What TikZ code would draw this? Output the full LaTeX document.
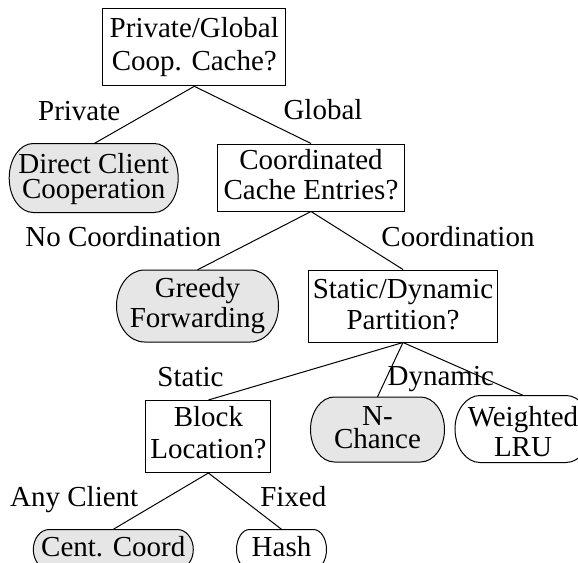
\documentclass[tikz,border=0pt]{standalone}
\usepackage{fontspec}
\setmainfont{Liberation Serif}
\definecolor{fillgray}{RGB}{230,230,230}
% oval outline: centre x, centre y, width, height, end radius, fill colour
\newcommand\ovaloutline[6]{%
  \filldraw[line width=1pt, fill=#6]
    ({#1-#3/2+#5},{#2-#4/2}) -- ({#1+#3/2-#5},{#2-#4/2})
    arc[start angle=-90, end angle=90, x radius=#5, y radius=#4/2]
    -- ({#1-#3/2+#5},{#2+#4/2})
    arc[start angle=90, end angle=270, x radius=#5, y radius=#4/2]
    -- cycle;}
\newcommand\upstrut[1]{\rule{0pt}{#1}}
\newcommand\downstrut[1]{\rule[-#1]{0pt}{0pt}}
\begin{document}
\begin{tikzpicture}[x=1pt,y=-1pt,
  every node/.style={font=\fontsize{29}{32}\selectfont, inner sep=0pt},
  qbox/.style={draw, line width=1pt, rectangle, align=center},
  leaf/.style={rectangle, align=center},
  edge/.style={line width=1pt},
  lbl/.style={anchor=base}]
\useasboundingbox (0,0) rectangle (578,562);
\clip (0,0) rectangle (578,562);
% decision boxes
\node[qbox, minimum width=183pt, minimum height=77pt, font=\fontsize{29}{33}\selectfont] (root) at (194.3,47.3) {Private/Global\\Coop. Cache?};
\node[qbox, minimum width=187pt, minimum height=67pt, font=\fontsize{29}{30}\selectfont] (coord) at (311,177.5) {Coordinated\\Cache Entries?\downstrut{7pt}};
\node[qbox, minimum width=189pt, minimum height=72pt, font=\fontsize{29}{31}\selectfont] (part) at (403,306) {Static/Dynamic\\Partition?\downstrut{4pt}};
\node[qbox, minimum width=125pt, minimum height=72pt, font=\fontsize{29}{32.5}\selectfont] (block) at (208.4,436.5) {Block\\Location?\downstrut{8pt}};
% leaves
\ovaloutline{93.7}{178}{169}{69}{24}{fillgray}
\node[leaf, minimum width=169pt, minimum height=69pt, font=\fontsize{29}{25}\selectfont] (direct) at (93.7,178.5) {\upstrut{22pt}Direct Client\\Cooperation};
\ovaloutline{197.5}{306}{162}{72}{28}{fillgray}
\node[leaf, minimum width=162pt, minimum height=72pt, font=\fontsize{29}{30}\selectfont] (greedy) at (197.5,306) {Greedy\\Forwarding};
\ovaloutline{377.5}{429.5}{134}{65}{24}{fillgray}
\node[leaf, minimum width=134pt, minimum height=65pt, font=\fontsize{29}{23}\selectfont] (nchance) at (377.5,429.5) {N-\\Chance\downstrut{4pt}};
\ovaloutline{523}{429}{136}{67}{25}{white}
\node[leaf, minimum width=136pt, minimum height=67pt, font=\fontsize{29}{30}\selectfont] (wlru) at (523,429) {\upstrut{26pt}Weighted\\LRU};
\ovaloutline{113.3}{549.5}{160}{40}{16}{fillgray}
\node[leaf, minimum width=160pt, minimum height=32pt, text height=24pt, text depth=2pt] (cent) at (113.3,545.5) {Cent. Coord};
\ovaloutline{281.5}{549.5}{90}{40}{13}{white}
\node[leaf, minimum width=90pt, minimum height=32pt, text height=24pt, text depth=2pt] (hash) at (281.5,545.5) {Hash};
% connectors
\draw[edge] (root.south) -- (direct.north);
\draw[edge] (root.south) -- (coord.north);
\draw[edge] (coord.south) -- (greedy.north);
\draw[edge] (coord.south) -- (part.north);
\draw[edge] (part.south) -- (block.north);
\draw[edge] (part.south) -- (nchance.north);
\draw[edge] (part.south) -- (wlru.north);
\draw[edge] (block.south) -- (cent.north);
\draw[edge] (block.south) -- (hash.north);
% branch labels
\node[lbl] (lprivate) at (79.2,120) {Private};
\node[lbl] (lglobal) at (323,119.5) {Global};
\node[lbl] (lnocoord) at (123.3,246.7) {No Coordination};
\node[lbl] (lcoord) at (458,246.7) {Coordination};
\node[lbl] (lstatic) at (190.5,386) {Static};
\node[lbl] (ldynamic) at (440.8,385) {Dynamic};
\node[lbl] (lany) at (74.2,506.5) {Any Client};
\node[lbl] (lfixed) at (293.3,506) {Fixed};
\end{tikzpicture}
\end{document}
